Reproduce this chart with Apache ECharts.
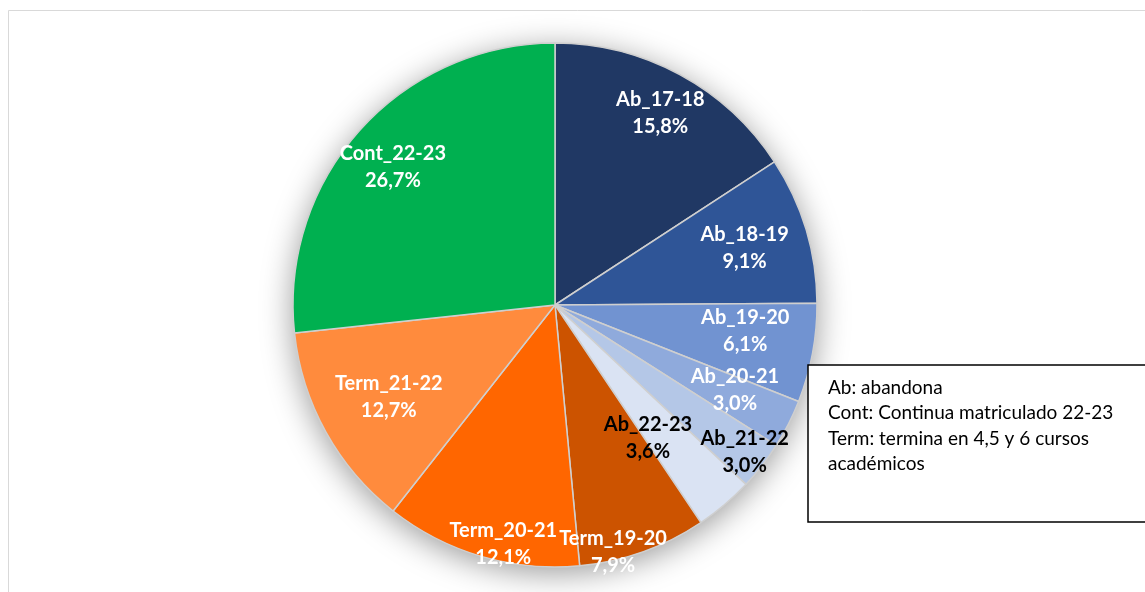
<!DOCTYPE html>
<html>
<head>
<meta charset="utf-8">
<script src="https://cdn.jsdelivr.net/npm/echarts@6/dist/echarts.min.js"></script>
<style>
html,body{margin:0;padding:0;background:#fff;}
#main{width:1145px;height:592px;}
</style>
</head>
<body>
<div id="main"></div>
<script>
// ---- data ----
var categories = ['Ab_17-18','Ab_18-19','Ab_19-20','Ab_20-21','Ab_21-22','Ab_22-23','Term_19-20','Term_20-21','Term_21-22','Cont_22-23'];
var percentages = [15.8, 9.1, 6.1, 3.0, 3.0, 3.6, 7.9, 12.1, 12.7, 26.7];
var noteLines = ['Ab: abandona','Cont: Continua matriculado 22-23','Term: termina en 4,5 y 6 cursos','académicos'];

// ---- styling / layout config ----
var sliceColors = ['#203864','#2F5597','#7193D1','#8FAADC','#B4C7E7','#DAE3F3','#CC5300','#FF6600','#FF8B3D','#00B050'];
var labelColors = ['#fff','#fff','#fff','#fff','#000','#000','#fff','#fff','#fff','#fff'];
var labelDist = [219,198,192,199,240,162,254,245,190,213];
var labelTurn = [0.3,0,-2.8,-1.7,0,5.3,6.4,-4.2,0,-1.5];
var CX = 555, CY = 305, R = 262;
var FONT = 'Lato, "Open Sans", sans-serif';

var chart = echarts.init(document.getElementById('main'));
var pieData = categories.map(function(c,i){
  return {
    name: c, value: percentages[i],
    itemStyle: {color: sliceColors[i]},
    label: {color: labelColors[i]}
  };
});

var noteGraphics = noteLines.map(function(t,i){
  return {type:'text', left: 828, top: 378 + i*25.5, z: 20,
    style:{text:t, fill:'#000', font:'19px ' + FONT}};
});

chart.setOption({
  backgroundColor:'#fff',
  animation:false,
  graphic: [
    {type:'rect', shape:{x:8.5,y:10.5,width:1150,height:600}, style:{fill:'none',stroke:'#d9d9d9',lineWidth:1}, z:-10},
    {type:'rect', shape:{x:808,y:365,width:360,height:157}, style:{fill:'#fff',stroke:'#000',lineWidth:1.5}, z:19}
  ].concat(noteGraphics),
  series: [
    {
      type:'pie', silent:true, center:[CX,CY], radius:R, z:1,
      label:{show:false}, labelLine:{show:false},
      itemStyle:{color:'#fff', shadowBlur:32, shadowColor:'rgba(0,0,0,0.4)', shadowOffsetY:6},
      data:[{value:1}]
    },
    {
      type:'pie', center:[CX,CY], radius:R, startAngle:90, clockwise:true, z:2,
      avoidLabelOverlap:false,
      itemStyle:{borderColor:'#cfcfcf', borderWidth:1.5},
      label:{show:true, position:'inside', fontFamily:FONT, fontWeight:'bold', fontSize:20, lineHeight:27,
        formatter:function(p){return p.name + '\n' + p.value.toFixed(1).replace('.',',') + '%';}},
      labelLine:{show:false},
      labelLayout:function(p){
        var i = p.dataIndex, r = p.labelRect;
        var lx = r.x + r.width/2, ly = r.y + r.height/2;
        var ang = Math.atan2(ly-CY, lx-CX) + labelTurn[i]*Math.PI/180;
        return {dx: CX + labelDist[i]*Math.cos(ang) - lx, dy: CY + labelDist[i]*Math.sin(ang) - ly};
      },
      data: pieData
    }
  ]
});
</script>
</body>
</html>
